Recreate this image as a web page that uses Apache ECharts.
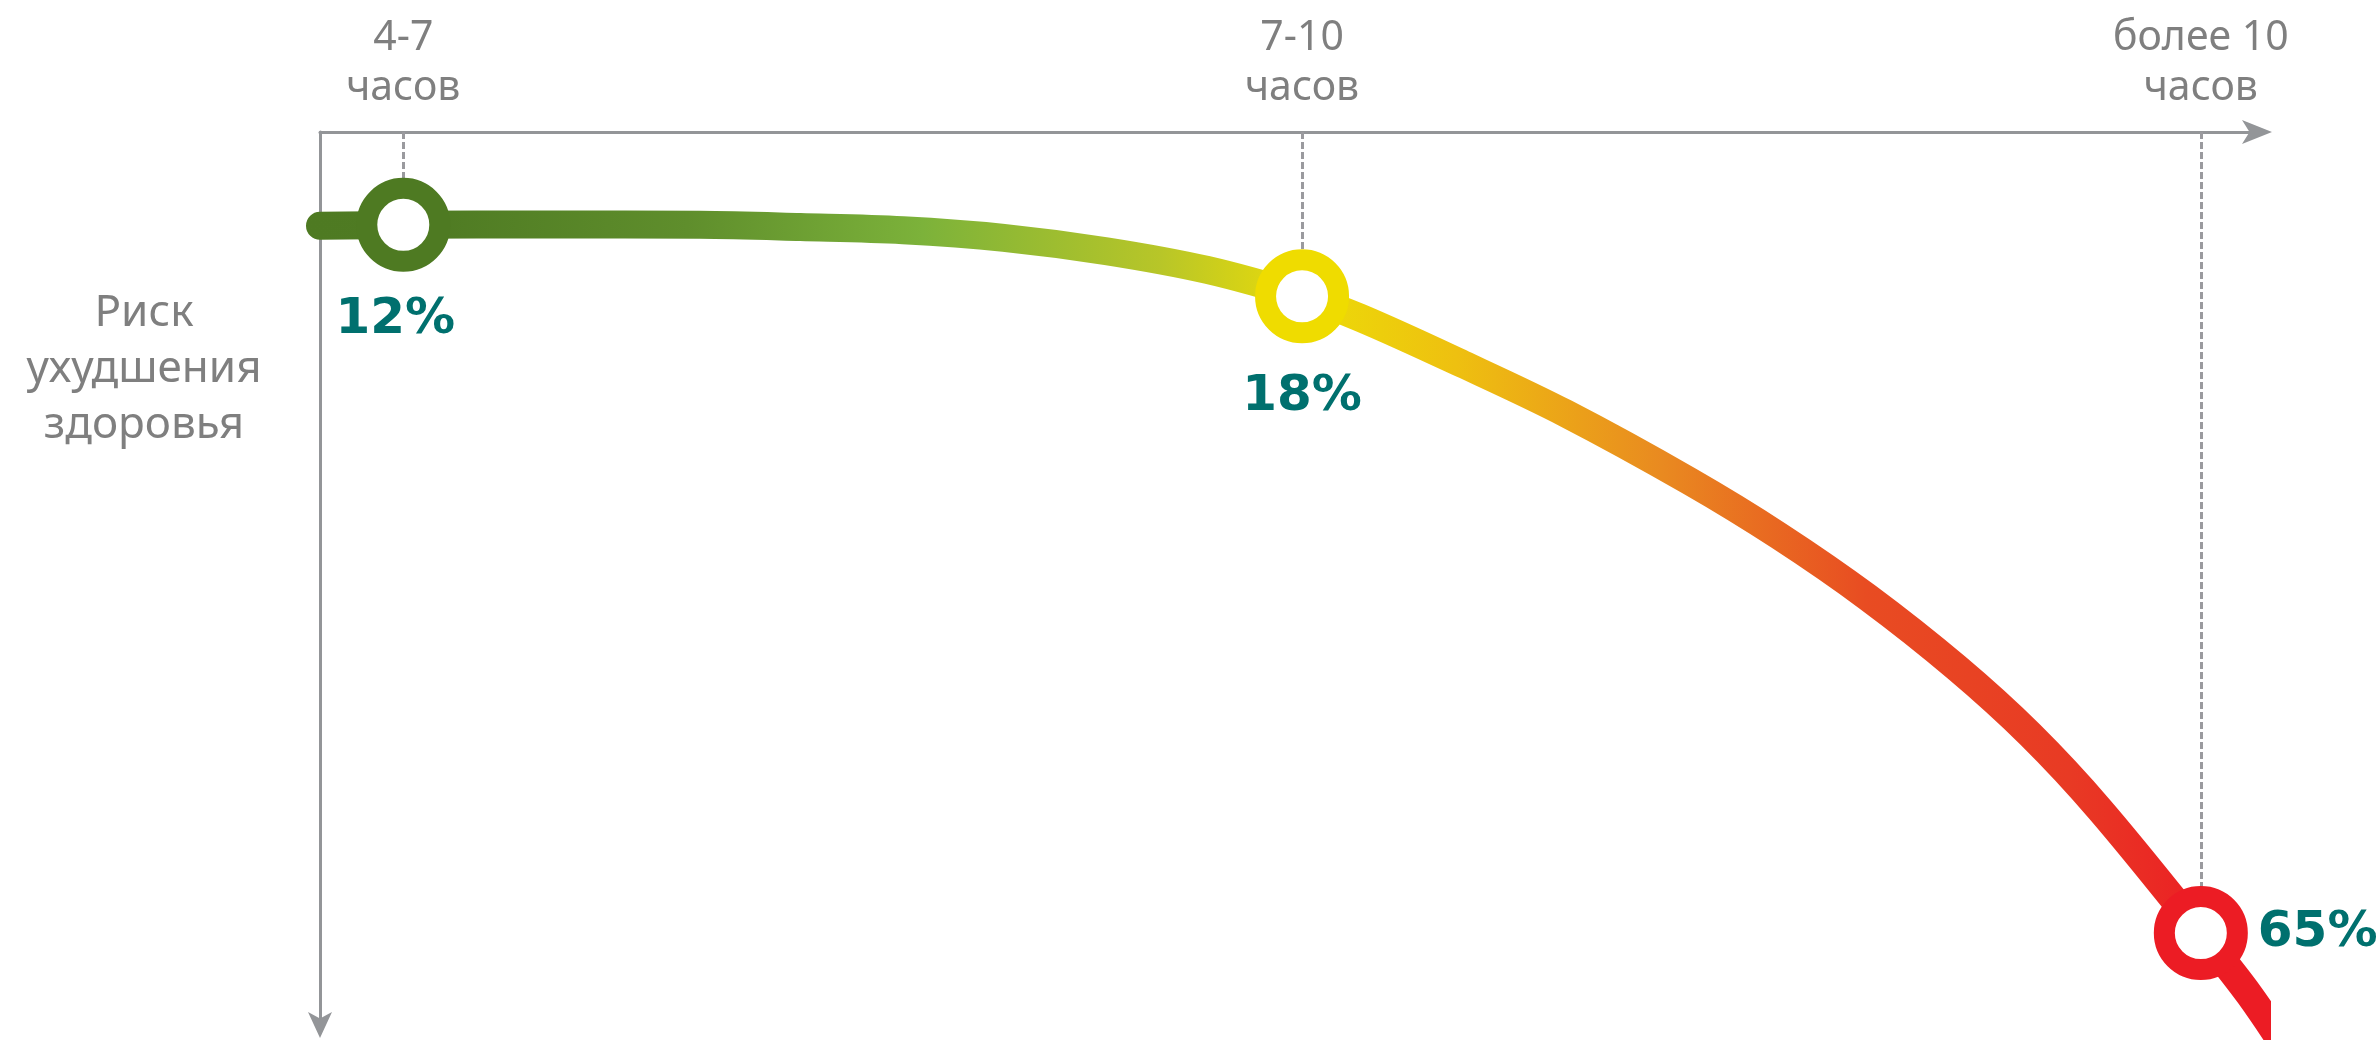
<!DOCTYPE html>
<html><head><meta charset="utf-8">
<script src="https://cdn.jsdelivr.net/npm/echarts@6/dist/echarts.min.js"></script>
<style>html,body{margin:0;padding:0;background:#fff}#c{width:2380px;height:1040px}</style>
</head><body><div id="c"></div>
<script>
// ---- data ----
const categories = ['4-7\nчасов', '7-10\nчасов', 'более 10\nчасов'];
const riskLabels = ['12%', '18%', '65%'];
const markerX = [4.3, 50.7, 97.1];
const markerY = [10.4, 18.4, 89.7];
const curveX = [0, 4.3, 11.9, 19.6, 24.8, 30.1, 35.3, 40.6, 45.8, 50.7, 53.7, 59.0, 64.3, 70.7, 75.3, 79.9, 84.5, 88.3, 91.9, 97.1, 99.6, 102.2];
const curveY = [10.5, 10.4, 10.35, 10.4, 10.65, 11.0, 11.85, 13.35, 15.45, 18.4, 20.8, 26.0, 31.5, 39.1, 45.2, 52.1, 60.0, 67.5, 75.9, 89.7, 96.6, 105.0];
const yAxisTitle = 'Риск\nухудшения\nздоровья';

// ---- styles ----
const markerColors = ['#4e7a22', '#efdc00', '#ec1c24'];
const labelPlace = [
  {position: 'bottom', distance: 23, offset: [-8, 0]},
  {position: 'bottom', distance: 29, offset: [0, 0]},
  {position: 'right', distance: 10, offset: [0, 0]}
];
const grey = '#939598';
const textGrey = '#7f7f7f';
const teal = '#00706e';

const chart = echarts.init(document.getElementById('c'), null, {renderer: 'canvas'});

const curveData = curveX.map((x, i) => [x, curveY[i]]);
const markerData = markerX.map((x, i) => ({
  value: [x, markerY[i]],
  itemStyle: {color: '#ffffff', borderColor: markerColors[i], borderWidth: 21, opacity: 1},
  label: {
    show: true, formatter: riskLabels[i],
    position: labelPlace[i].position, distance: labelPlace[i].distance, offset: labelPlace[i].offset
  }
}));
const topData = markerX.map((x, i) => ({value: [x, 0], name: categories[i]}));

const option = {
  animation: false,
  backgroundColor: '#ffffff',
  title: {
    text: yAxisTitle,
    left: 139, top: 280, textAlign: 'center',
    textStyle: {
      fontFamily: 'Noto Sans', fontSize: 44, fontWeight: 'normal',
      lineHeight: 56, color: textGrey, align: 'center'
    }
  },
  grid: {left: 320, right: 123, top: 132, bottom: 15, containLabel: false},
  xAxis: {
    type: 'value', position: 'top', min: 0, max: 100,
    axisLine: {show: true, onZero: false, symbol: ['none', 'arrow'], symbolSize: [18, 30],
      symbolOffset: [0, 15],
      lineStyle: {color: grey, width: 3}},
    axisTick: {show: false}, axisLabel: {show: false}, splitLine: {show: false}
  },
  yAxis: {
    type: 'value', inverse: true, min: 0, max: 100,
    axisLine: {show: true, onZero: false, symbol: ['arrow', 'none'], symbolSize: [18, 26],
      symbolOffset: [-13, 0],
      lineStyle: {color: grey, width: 3}},
    axisTick: {show: false}, axisLabel: {show: false}, splitLine: {show: false}
  },
  series: [
    {
      type: 'line', data: curveData, smooth: 0.35, symbol: 'none', clip: false, z: 2,
      lineStyle: {
        width: 28, cap: 'round', join: 'round',
        color: new echarts.graphic.LinearGradient(0, 0, 1, 0, [
          {offset: 0, color: '#4e7a22'},
          {offset: 0.066, color: '#4f7b23'},
          {offset: 0.19, color: '#5f8e2c'},
          {offset: 0.307, color: '#7cb23a'},
          {offset: 0.426, color: '#b8c628'},
          {offset: 0.498, color: '#ecdc08'},
          {offset: 0.573, color: '#eec010'},
          {offset: 0.675, color: '#e98a20'},
          {offset: 0.777, color: '#e84c22'},
          {offset: 0.878, color: '#e83a24'},
          {offset: 0.954, color: '#ec1c24'},
          {offset: 1, color: '#ec1c24'}
        ])
      }
    },
    {
      type: 'scatter', data: markerData, symbol: 'circle', symbolSize: 73, clip: false, z: 10,
      itemStyle: {opacity: 1},
      label: {fontFamily: 'DejaVu Sans', fontWeight: 'bold', fontSize: 50, color: teal},
      markLine: {
        silent: true, symbol: ['none', 'none'], z: 3,
        label: {show: false},
        lineStyle: {type: [7, 3], color: '#9a9a9e', width: 3, opacity: 1},
        data: markerX.map((x, i) => [{coord: [x, 0]}, {coord: [x, markerY[i]]}])
      }
    },
    {
      type: 'scatter', data: topData, symbol: 'circle', symbolSize: 1, clip: false, z: 5,
      itemStyle: {color: 'rgba(0,0,0,0)', opacity: 1},
      label: {
        show: true, position: 'top', distance: 18, formatter: p => p.name,
        fontFamily: 'Noto Sans', fontSize: 41, lineHeight: 50, color: textGrey, align: 'center'
      }
    }
  ]
};
chart.setOption(option);
</script></body></html>
